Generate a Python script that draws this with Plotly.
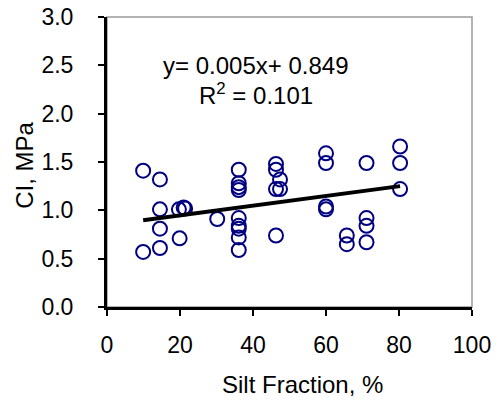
import plotly.graph_objects as go

silt = [9.9, 9.9,
        14.5, 14.5, 14.5, 14.5,
        19.9, 19.7, 21.0, 21.4,
        30.2,
        36.1, 36.1, 36.1, 36.1, 36.1, 36.1, 36.1, 36.1, 36.1,
        46.3, 46.3, 47.4, 46.3, 47.4, 46.3,
        60.0, 60.0, 60.0, 60.0,
        65.7, 65.7,
        71.1, 71.1, 71.1, 71.1,
        80.3, 80.3, 80.3]
ci = [1.41, 0.57,
      1.32, 1.01, 0.81, 0.61,
      0.71, 1.01, 1.03, 1.02,
      0.91,
      1.42, 1.28, 1.24, 1.21, 0.92, 0.84, 0.81, 0.72, 0.59,
      1.48, 1.42, 1.32, 1.22, 1.22, 0.74,
      1.59, 1.49, 1.04, 1.01,
      0.74, 0.65,
      1.49, 0.92, 0.84, 0.67,
      1.66, 1.49, 1.22]

slope = 0.005
intercept = 0.849
r2 = 0.101

x_ticks = [0, 20, 40, 60, 80, 100]
y_ticks = [0.0, 0.5, 1.0, 1.5, 2.0, 2.5, 3.0]
y_tick_text = ["0.0", "0.5", "1.0", "1.5", "2.0", "2.5", "3.0"]
x_title = "Silt Fraction, %"
y_title = "CI, MPa"

FONT = "Arial, 'Liberation Sans', sans-serif"
FS = 23

xmin, xmax = min(silt), max(silt)
fit_x = [xmin, xmax]
fit_y = [slope * v + intercept for v in fit_x]

fig = go.Figure()
fig.add_trace(go.Scatter(
    x=silt, y=ci, mode="markers",
    marker=dict(symbol="circle-open", size=14, color="#000080",
                line=dict(width=2, color="#000080")),
    showlegend=False, cliponaxis=False))
fig.add_trace(go.Scatter(
    x=fit_x, y=fit_y, mode="lines",
    line=dict(color="black", width=4), showlegend=False))

fig.add_annotation(x=40.8, y=2.50, xref="x", yref="y",
                   text=f"y= {slope:.3f}x+ {intercept:.3f}",
                   showarrow=False, borderpad=0,
                   font=dict(family=FONT, size=24, color="black"))
fig.add_annotation(x=40.8, y=2.20, xref="x", yref="y",
                   text=f"R<sup>2</sup> = {r2:.3f}",
                   showarrow=False, borderpad=0,
                   font=dict(family=FONT, size=24, color="black"))

# axis titles
fig.add_annotation(x=0.536, y=-0.266, xref="paper", yref="paper",
                   text=x_title, showarrow=False, xanchor="center", yanchor="middle",
                   font=dict(family=FONT, size=24, color="black"))
fig.add_annotation(x=-0.225, y=0.49, xref="paper", yref="paper",
                   text=y_title, showarrow=False, textangle=-90,
                   xanchor="center", yanchor="middle",
                   font=dict(family=FONT, size=24, color="black"))

# grey frame (top/right)
fig.add_shape(type="rect", xref="paper", yref="paper", x0=0, y0=0, x1=1, y1=1,
              line=dict(color="#9a9a9a", width=1.5), layer="below")

fig.update_layout(
    width=500, height=400,
    margin=dict(l=107, r=28, t=17, b=93, autoexpand=False),
    paper_bgcolor="white", plot_bgcolor="white",
    font=dict(family=FONT, size=FS, color="black"),
    xaxis=dict(range=[0, 100], tickvals=x_ticks, ticks="outside", ticklen=6,
               tickwidth=2, tickcolor="black", showline=True, linecolor="black",
               linewidth=3, showgrid=False, zeroline=False, automargin=False,
               ticklabelstandoff=9, ticklabeloverflow="allow"),
    yaxis=dict(range=[0, 3], tickvals=y_ticks, ticktext=y_tick_text,
               ticks="outside", ticklen=6, tickwidth=2, tickcolor="black",
               showline=True, linecolor="black", linewidth=3, automargin=False,
               showgrid=False, zeroline=False, ticklabelstandoff=20,
               ticklabeloverflow="allow"),
)

fig.write_html("out.html", config={"displayModeBar": False},
               post_script="document.body.style.margin='0';document.body.style.overflow='hidden';")
